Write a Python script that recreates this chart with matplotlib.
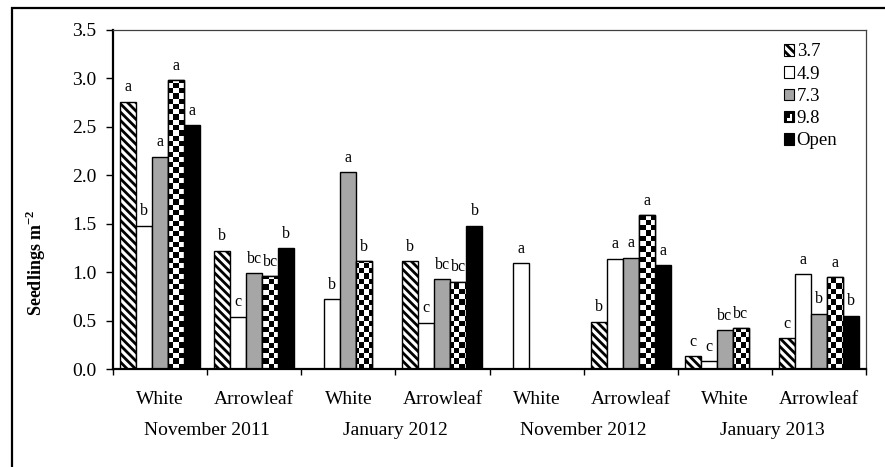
import numpy as np
import matplotlib
matplotlib.use("Agg")
import matplotlib.pyplot as plt
from matplotlib.patches import Rectangle
from matplotlib.legend_handler import HandlerBase
from matplotlib.transforms import blended_transform_factory

plt.rcParams['font.family'] = ['Liberation Serif', 'DejaVu Serif']
plt.rcParams['mathtext.fontset'] = 'custom'
plt.rcParams['mathtext.rm'] = 'Liberation Serif'
plt.rcParams['mathtext.bf'] = 'Liberation Serif:bold'
plt.rcParams['hatch.linewidth'] = 2.0

# ---- data -------------------------------------------------------------
species = ["White", "Arrowleaf"] * 4
dates = ["November 2011", "January 2012", "November 2012", "January 2013"]
series_names = ["3.7", "4.9", "7.3", "9.8", "Open"]
nan = np.nan
s37 = [2.76, 1.22, nan, 1.11, nan, 0.49, 0.13, 0.32]
s49 = [1.48, 0.54, 0.72, 0.48, 1.09, 1.14, 0.08, 0.98]
s73 = [2.19, 0.99, 2.03, 0.93, nan, 1.15, 0.40, 0.57]
s98 = [2.98, 0.96, 1.11, 0.90, nan, 1.59, 0.42, 0.95]
sopen = [2.52, 1.25, nan, 1.48, nan, 1.07, nan, 0.55]
l37 = ["a", "b", "", "b", "", "b", "c", "c"]
l49 = ["b", "c", "b", "c", "a", "a", "c", "a"]
l73 = ["a", "bc", "a", "bc", "", "a", "bc", "b"]
l98 = ["a", "bc", "b", "bc", "", "a", "bc", "a"]
lopen = ["a", "b", "", "b", "", "a", "", "b"]
yticks = [0.0, 0.5, 1.0, 1.5, 2.0, 2.5, 3.0, 3.5]

values = [s37, s49, s73, s98, sopen]
letters = [l37, l49, l73, l98, lopen]

# ---- figure -------------------------------------------------------------
W, H = 885, 467
fig = plt.figure(figsize=(W / 100, H / 100), dpi=100)
ax = fig.add_axes([113 / W, 1 - 369 / H, (866 - 113) / W, (369 - 30) / H])

# outer frame (top and left edges visible)
fig.add_artist(Rectangle((12 / W, -0.2), 1.2, 1 - 8 / H + 0.2, transform=fig.transFigure,
                         fill=False, edgecolor='black', linewidth=1.6))

n_groups = len(species)
bw = 0.17
centers = np.arange(n_groups) + 0.5
styles = [
    dict(facecolor='white', hatch='\\\\\\\\'),
    dict(facecolor='white'),
    dict(facecolor='#a6a6a6'),
    dict(facecolor='white'),
    dict(facecolor='black'),
]

# checkerboard texture used for the 9.8 series
nx, ny = 150, 64
checker = (np.add.outer(np.arange(ny), np.arange(nx)) % 2).astype(float)

for i, (vals, labs, st) in enumerate(zip(values, letters, styles)):
    x = centers + (i - 2) * bw
    v = np.array(vals, dtype=float)
    ok = ~np.isnan(v)
    bars = ax.bar(x[ok], v[ok], width=bw, edgecolor='black', linewidth=1.0,
                  zorder=2, **st)
    if i == 3:
        for b in bars:
            im = ax.imshow(checker, extent=(0, 8, 0, 3.5), cmap='gray_r',
                           interpolation='nearest', aspect='auto', zorder=2.5,
                           origin='lower')
            im.set_clip_path(b)
            edge = Rectangle(b.get_xy(), b.get_width(), b.get_height(), fill=False,
                             edgecolor='black', linewidth=1.0, zorder=3)
            ax.add_patch(edge)
    for xi, vi, li in zip(x, v, labs):
        if li and not np.isnan(vi):
            ax.annotate(li, (xi, vi), xytext=(0, 7.5), textcoords='offset points',
                        ha='center', va='baseline', fontsize=11.5)

ax.set_xlim(0, 8)
ax.set_ylim(0, 3.5)
ax.set_yticks(yticks)
ax.set_yticklabels([f"{t:.1f}" for t in yticks], fontsize=14)
ax.tick_params(axis='y', direction='out', length=5, width=1, pad=7)

ax.set_xticks(centers)
ax.set_xticklabels(species, fontsize=14)
ax.tick_params(axis='x', which='major', length=0, pad=16)
ax.set_xticks(np.arange(n_groups + 1), minor=True)
ax.tick_params(axis='x', which='minor', direction='out', length=4, width=1)

for sp in ['left', 'bottom']:
    ax.spines[sp].set_linewidth(1.6)
    ax.spines[sp].set_color('black')
for sp in ['top', 'right']:
    ax.spines[sp].set_linewidth(0.9)
    ax.spines[sp].set_color('#404040')

trans = blended_transform_factory(ax.transData, ax.transAxes)
for k, d in enumerate(dates):
    ax.text(2 * k + 1, -0.18, d, transform=trans, ha='center', va='center',
            fontsize=14)

fig.text(36 / W, 1 - 263 / H, r"Seedlings m$^{\mathbf{-2}}$", rotation=90,
         ha='center', va='center', fontsize=13, fontweight='bold')


# ---- legend ---------------------------------------------------------------
class CheckerHandler(HandlerBase):
    def create_artists(self, legend, orig_handle, xdescent, ydescent, width,
                       height, fontsize, trans):
        x0, y0 = -xdescent, -ydescent
        outer = Rectangle((x0, y0), width, height, facecolor='black',
                          edgecolor='black', linewidth=0.8, transform=trans)
        inner = Rectangle((x0 + 0.3 * width, y0 + 0.15 * height), 0.55 * width,
                          0.55 * height, facecolor='white', linewidth=0, transform=trans)
        dark = Rectangle((x0 + 0.3 * width, y0 + 0.35 * height), 0.35 * width,
                         0.35 * height, facecolor='black', linewidth=0, transform=trans)
        return [outer, inner, dark]


handles = []
for st in styles:
    handles.append(Rectangle((0, 0), 1, 1, edgecolor='black', linewidth=0.8, **st))
checker_handle = handles[3]
leg = ax.legend(handles, series_names, loc='upper left',
                bbox_to_anchor=((776 - 113) / (866 - 113), 1 - (36 - 30) / 339),
                frameon=False, fontsize=13.5, handlelength=0.55, handleheight=0.55,
                handletextpad=0.15, labelspacing=0.28, borderaxespad=0,
                handler_map={checker_handle: CheckerHandler()})

fig.savefig("out.png", dpi=100)
